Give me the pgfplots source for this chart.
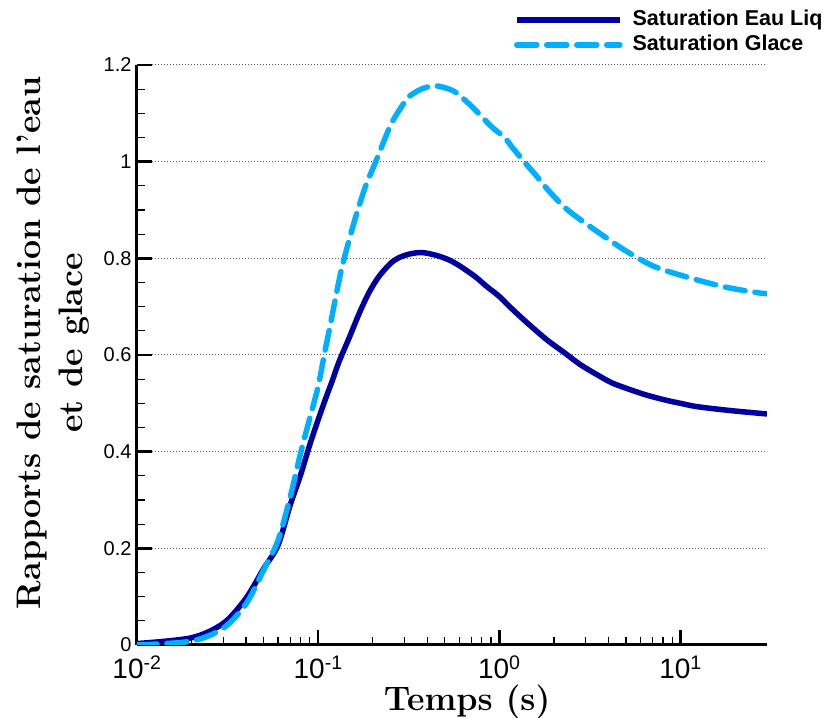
\documentclass[border=0pt]{standalone}
\usepackage{fontspec}
\usepackage{pgfplots}
\pgfplotsset{compat=1.18}
\newfontfamily\arial{Liberation Sans}
\definecolor{liqblue}{RGB}{0,0,160}
\definecolor{iceblue}{RGB}{0,175,255}
\begin{document}
\begin{tikzpicture}
\begin{axis}[
  name=ax,
  scale only axis,
  width=630pt, height=580pt,
  xmode=log,
  xmin=0.01, xmax=30,
  ymin=0, ymax=1.2,
  axis x line=bottom, axis y line=left,
  axis line style={line width=3pt,-},
  tick align=inside,
  major tick length=15pt, minor tick length=8pt,
  every tick/.style={black},
  major tick style={line width=2.5pt},
  minor tick style={line width=1.2pt},
  xtick={0.01,0.1,1,10},
  xticklabels={10\textsuperscript{-2},10\textsuperscript{-1},10\textsuperscript{0},10\textsuperscript{1}},
  xticklabel style={font=\arial\fontsize{28}{30}\selectfont, anchor=base, yshift=-34pt},
  ytick={0,0.2,0.4,0.6,0.8,1,1.2},
  yticklabels={0,0.2,0.4,0.6,0.8,1,1.2},
  yticklabel style={font=\arial\fontsize{20}{22}\selectfont, xshift=-2pt},
  minor y tick num=3,
  ymajorgrids=true,
  major grid style={line width=1pt, black!65, dash pattern=on 1pt off 2pt},
  xlabel={Temps (s)},
  xlabel style={font=\fontsize{34}{40}\selectfont\bfseries, at={(axis description cs:0.524,-0.1133)}, anchor=base},
  ylabel={Rapports de saturation de l'eau\\et de glace},
  ylabel style={font=\fontsize{34}{42}\selectfont\bfseries, align=center, at={(axis description cs:-0.1333,0.521)}, anchor=center, rotate=0},
  legend cell align=left,
  legend style={draw=none, fill=none, inner sep=0pt, outer sep=0pt,
    at={(rel axis cs:0.5985,1.0991)}, anchor=north west,
    font=\arial\bfseries\fontsize{21.5}{24}\selectfont,
    row sep=0pt,
    nodes={text height=15.5pt, text depth=4.5pt, inner ysep=2.5pt, inner xsep=10pt}},
  legend image code/.code={\draw[#1] (0pt,0pt) -- (103pt,0pt);},
]
\addplot[color=liqblue, line width=5.5pt, line join=round, smooth, tension=0.5] coordinates {
(0.01,0.003) (0.02,0.015) (0.03,0.045) (0.04,0.097) (0.05,0.158) (0.06,0.206)
(0.07,0.289) (0.08,0.352) (0.09,0.415) (0.10,0.466) (0.11,0.510) (0.12,0.548)
(0.13,0.585) (0.15,0.640) (0.168,0.685) (0.19,0.728) (0.216,0.762) (0.25,0.789)
(0.278,0.801) (0.32,0.809) (0.374,0.812) (0.45,0.806) (0.525,0.797) (0.6,0.785)
(0.736,0.762) (0.85,0.742) (1.0,0.721) (1.2,0.692) (1.5,0.659) (1.85,0.630)
(2.3,0.604) (2.8,0.580) (3.47,0.559) (4.2,0.542) (5.3,0.528) (6.5,0.517)
(8.2,0.507) (10,0.500) (12.4,0.493) (18.9,0.485) (30,0.478)
};
\addlegendentry{Saturation Eau Liq}
\addplot[color=iceblue, line width=5.5pt, line cap=round, line join=round, dash pattern=on 20pt off 10pt, smooth, tension=0.5] coordinates {
(0.01,0.0) (0.02,0.008) (0.03,0.035) (0.04,0.085) (0.05,0.155) (0.06,0.216)
(0.07,0.305) (0.08,0.397) (0.09,0.470) (0.10,0.535) (0.108,0.600) (0.1175,0.668)
(0.127,0.733) (0.136,0.785) (0.1545,0.862) (0.168,0.908) (0.183,0.950) (0.2,0.985) (0.212,1.008)
(0.235,1.050) (0.256,1.082) (0.29,1.115) (0.316,1.134) (0.37,1.150) (0.443,1.157)
(0.547,1.148) (0.62,1.133) (0.705,1.114) (0.908,1.072) (1.07,1.050) (1.17,1.031)
(1.37,1.000) (1.64,0.966) (1.86,0.941) (2.30,0.905) (2.8,0.880) (3.36,0.859)
(4.91,0.817) (7.17,0.783) (11.4,0.759) (17.4,0.741) (26.5,0.729) (30,0.727)
};
\addlegendentry{Saturation Glace}
\end{axis}
\pgfresetboundingbox
\path (ax.south west) ++(-137pt,-73pt) rectangle ++(831pt,718pt);
\end{tikzpicture}
\end{document}
